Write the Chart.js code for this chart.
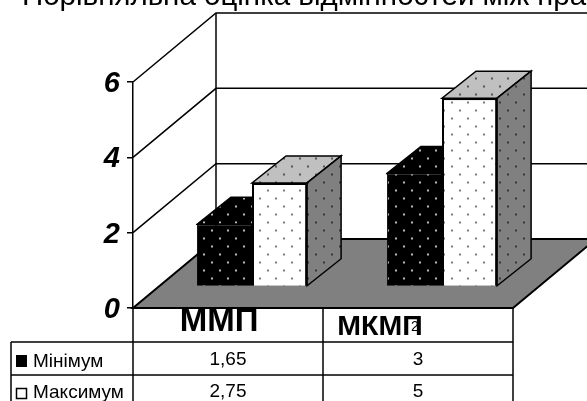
<!DOCTYPE html>
<html>
<head>
<meta charset="utf-8">
<style>
  html, body { margin: 0; padding: 0; background: #fff; overflow: hidden; }
  canvas { display: block; }
</style>
<script src="https://cdn.jsdelivr.net/npm/chart.js@4"></script>
</head>
<body>
<canvas id="chart-bar" width="587" height="401"></canvas>
<script>
var titleText = "Порівняльна оцінка відмінностей між пра";
var categories = ["ММП", "МКМП"];
var seriesNames = ["Мінімум", "Максимум"];
var minimumValues = [1.65, 3];
var maximumValues = [2.75, 5];
var minimumLabels = ["1,65", "3"];
var maximumLabels = ["2,75", "5"];
var tickValues = [0, 2, 4, 6];

var FONT = '"Liberation Sans", Arial, sans-serif';
// perspective of the box the bars stand in
var DEPTH_X = 83, DEPTH_Y = -69;
// the bars stand a bit behind the front edge of the floor
var BAR_SHIFT_X = 24, BAR_SHIFT_Y = -21.5;
var BAR_DEPTH_X = 34, BAR_DEPTH_Y = -27;

function dots(base, dot) {
  var c = document.createElement("canvas");
  c.width = 16; c.height = 16;
  var g = c.getContext("2d");
  g.fillStyle = base;
  g.fillRect(0, 0, 16, 16);
  g.fillStyle = dot;
  g.fillRect(3, 3, 2, 2);
  g.fillRect(11, 11, 2, 2);
  return g.createPattern(c, "repeat");
}

var ctx = document.getElementById("chart-bar").getContext("2d");
var blackDots = dots("#000000", "#b8b8b8");
var faces = [
  { front: blackDots, top: blackDots, side: blackDots },
  { front: dots("#ffffff", "#808080"), top: dots("#c0c0c0", "#555555"), side: dots("#808080", "#3a3a3a") }
];

function poly(c, pts, fill) {
  c.beginPath();
  c.moveTo(pts[0][0], pts[0][1]);
  for (var i = 1; i < pts.length; i++) c.lineTo(pts[i][0], pts[i][1]);
  c.closePath();
  c.fillStyle = fill;
  c.fill();
  c.stroke();
}

function label(c, text, x, y, font, align) {
  c.font = font;
  c.textAlign = align || "center";
  c.textBaseline = "middle";
  c.fillStyle = "#000";
  c.fillText(text, x, y);
}

var boxPlugin = {
  id: "box3d",
  // back wall, gridlines and floor
  beforeDatasetsDraw: function(chart) {
    var c = chart.ctx, a = chart.chartArea, y = chart.scales.y;
    var backX = a.left + DEPTH_X;
    c.save();
    c.strokeStyle = "#000";
    c.lineWidth = 1.5;
    tickValues.forEach(function(v) {
      if (v === 0) return;
      var py = y.getPixelForValue(v);
      c.beginPath();
      c.moveTo(a.left, py);
      c.lineTo(backX, py + DEPTH_Y);
      c.lineTo(chart.width + 2, py + DEPTH_Y);
      c.stroke();
    });
    c.beginPath();
    c.moveTo(backX, y.getPixelForValue(6) + DEPTH_Y);
    c.lineTo(backX, a.bottom + DEPTH_Y);
    c.stroke();
    c.lineWidth = 2;
    poly(c, [[a.left, a.bottom], [a.right, a.bottom], [a.right + DEPTH_X, a.bottom + DEPTH_Y], [backX, a.bottom + DEPTH_Y]], "#808080");
    c.restore();
  },
  // top and side of each bar, the library draws the front face.
  // datasets are drawn last to first, so the first series only shows the part left of its neighbour
  beforeDatasetDraw: function(chart, args) {
    var c = chart.ctx, f = faces[args.index], last = args.index === chart.data.datasets.length - 1;
    c.save();
    c.translate(BAR_SHIFT_X, BAR_SHIFT_Y);
    c.save();
    c.strokeStyle = "#000";
    c.lineWidth = 1.5;
    args.meta.data.forEach(function(bar) {
      var l = bar.x - bar.width / 2, r = bar.x + bar.width / 2;
      c.save();
      if (!last) {
        c.beginPath();
        c.rect(l - 1, 0, bar.width + 1, chart.height);
        c.clip();
      }
      poly(c, [[l, bar.y], [r, bar.y], [r + BAR_DEPTH_X, bar.y + BAR_DEPTH_Y], [l + BAR_DEPTH_X, bar.y + BAR_DEPTH_Y]], f.top);
      if (last) poly(c, [[r, bar.y], [r + BAR_DEPTH_X, bar.y + BAR_DEPTH_Y], [r + BAR_DEPTH_X, bar.base + BAR_DEPTH_Y], [r, bar.base]], f.side);
      c.restore();
    });
    c.restore();
  },
  afterDatasetDraw: function(chart) {
    chart.ctx.restore();
  },
  // title and data table
  afterDraw: function(chart) {
    var c = chart.ctx, a = chart.chartArea, x = chart.scales.x;
    var tableLeft = 11, row0 = 342, row1 = 375, col1 = (x.getPixelForValue(0) + x.getPixelForValue(1)) / 2;
    c.save();
    c.textBaseline = "alphabetic";
    c.font = "29.5px " + FONT;
    c.textAlign = "left";
    c.fillStyle = "#000";
    c.fillText(titleText, 22, 5);

    c.strokeStyle = "#000";
    c.lineWidth = 1.5;
    [[a.left, a.bottom, a.left, chart.height], [col1, a.bottom, col1, chart.height],
     [a.right, a.bottom, a.right, chart.height], [tableLeft, row0, tableLeft, chart.height],
     [tableLeft, row0, a.right, row0], [tableLeft, row1, a.right, row1]].forEach(function(s) {
      c.beginPath();
      c.moveTo(s[0], s[1]);
      c.lineTo(s[2], s[3]);
      c.stroke();
    });

    label(c, categories[0], 219, 322, "bold 33px " + FONT);
    label(c, categories[1], 380, 327, "bold 28.5px " + FONT);
    label(c, "2", 415, 327, "14px " + FONT);

    c.fillStyle = "#000";
    c.fillRect(16, 355, 11, 12);
    c.strokeRect(16.5, 388.5, 10, 10);
    label(c, seriesNames[0], 33, 362, "19px " + FONT, "left");
    label(c, seriesNames[1], 33, 393, "19px " + FONT, "left");
    for (var i = 0; i < categories.length; i++) {
      label(c, minimumLabels[i], x.getPixelForValue(i), 360, "19px " + FONT);
      label(c, maximumLabels[i], x.getPixelForValue(i), 392, "19px " + FONT);
    }
    c.restore();
  }
};

new Chart(ctx, {
  type: "bar",
  plugins: [boxPlugin],
  data: {
    labels: categories,
    datasets: [
      { label: seriesNames[0], data: minimumValues, clip: false, backgroundColor: faces[0].front, borderColor: "#000", borderWidth: 1 },
      { label: seriesNames[1], data: maximumValues, clip: false, backgroundColor: faces[1].front, borderColor: "#000", borderWidth: 2 }
    ]
  },
  options: {
    responsive: false,
    animation: false,
    layout: { padding: { top: 82, right: 74, left: 0, bottom: 0 } },
    plugins: { legend: { display: false }, title: { display: false }, tooltip: { enabled: false } },
    datasets: { bar: { categoryPercentage: 0.58, barPercentage: 1 } },
    scales: {
      x: {
        afterFit: function(s) { s.height = 93; },
        grid: { display: false },
        border: { display: false },
        ticks: { display: false }
      },
      y: {
        min: 0,
        max: 6,
        afterFit: function(s) { s.width = 133; },
        afterBuildTicks: function(s) { s.ticks = tickValues.map(function(v) { return { value: v }; }); },
        grid: { drawOnChartArea: false, drawTicks: true, tickLength: 6, color: "#000", lineWidth: 1.5 },
        border: { display: true, color: "#000", width: 1.5 },
        ticks: { padding: 7, labelOffset: 2, color: "#000", font: { family: FONT, size: 29, weight: "bold", style: "italic" } }
      }
    }
  }
});
</script>
</body>
</html>
